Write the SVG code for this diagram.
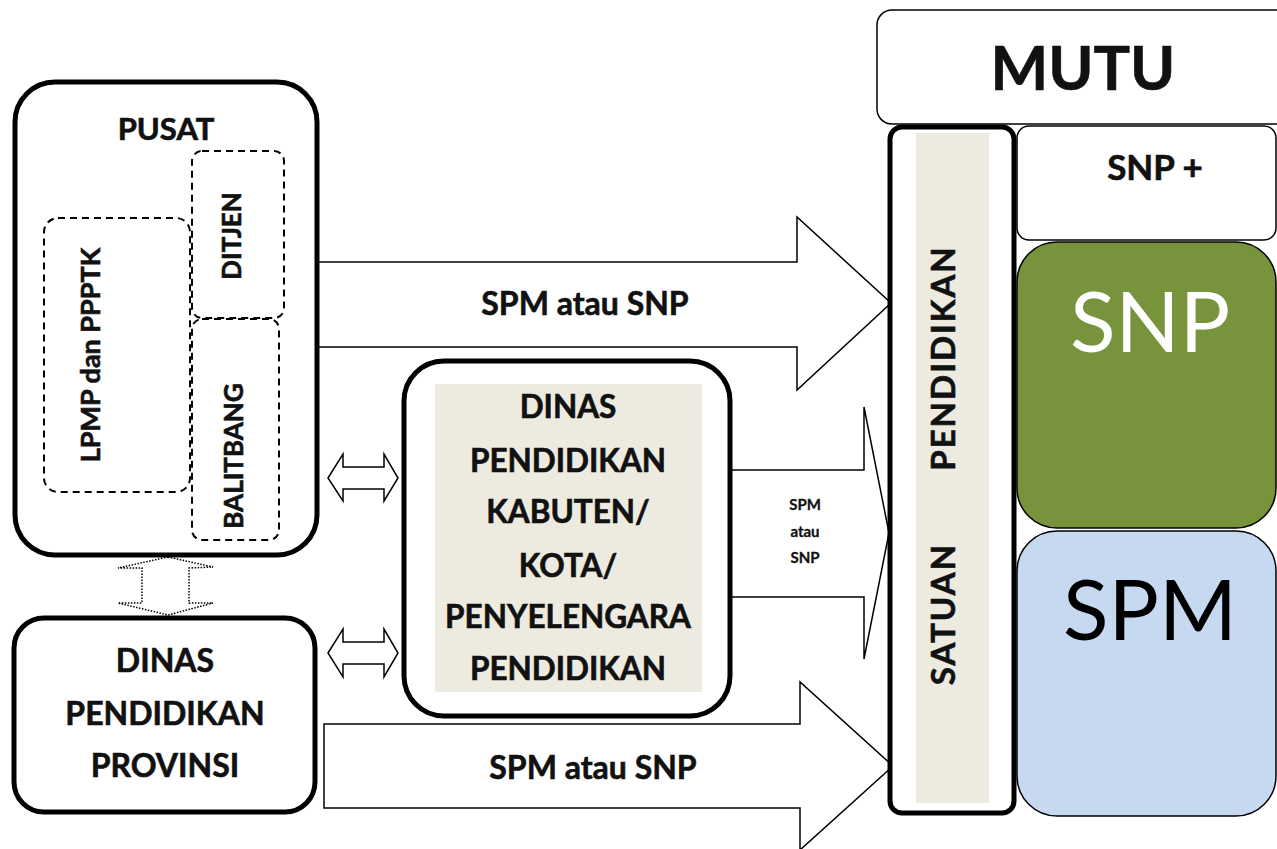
<svg xmlns="http://www.w3.org/2000/svg" width="1277" height="849" viewBox="0 0 1277 849">
<style>
  text { font-family: Lato, "Open Sans", "Liberation Sans", sans-serif; font-weight: bold; fill: #111; stroke: #111; stroke-width: 0.6; text-anchor: middle; }
  .thick { fill: #fff; stroke: #000; stroke-width: 5; }
  .thin { fill: #fff; stroke: #000; stroke-width: 1.5; }
  .dash { fill: none; stroke: #000; stroke-width: 2; stroke-dasharray: 7 5; }
  .arrow { fill: #fff; stroke: #000; stroke-width: 1.5; stroke-linejoin: miter; }
  .dot { fill: #fff; stroke: #000; stroke-width: 1.5; stroke-dasharray: 1.5 1.5; }
  .beige { fill: #EDEBE0; }
</style>
<rect width="1277" height="849" fill="#fff"/>

<g id="connectors">
  <polygon class="arrow" points="300,262 797,262 797,217 891,303 797,390 797,347 300,347"/>
  <text x="585" y="315" font-size="32">SPM atau SNP</text>
  <polygon class="arrow" points="710,470 864,470 864,407 889,533 864,659 864,597 710,597"/>
  <text x="805" y="510" font-size="15" style="stroke-width:0.3">SPM</text>
  <text x="805" y="537" font-size="15" style="stroke-width:0.3">atau</text>
  <text x="805" y="563" font-size="15" style="stroke-width:0.3">SNP</text>
  <polygon class="arrow" points="324,724 800,724 800,682 893,766 800,850 800,808 324,808"/>
  <text x="593" y="779" font-size="32">SPM atau SNP</text>
  <polygon class="dot" points="168,557 213,567 189,568 189,603 213,603 168,615 118,603 142,603 142,568 118,568"/>
  <polygon class="arrow" points="328,478 343,454 343,467 384,467 384,454 398,478 384,501 384,489 343,489 343,501"/>
  <polygon class="arrow" points="328,653 343,629 343,642 384,642 384,629 398,653 384,677 384,664 343,664 343,677"/>
</g>

<g id="pusat">
  <rect class="thick" x="15" y="82" width="302" height="473" rx="40"/>
  <text x="166" y="140" font-size="31">PUSAT</text>
</g>
<g id="ditjen">
  <rect class="dash" x="192" y="151" width="92" height="167" rx="10"/>
  <text transform="translate(241,236) rotate(-90)" font-size="26">DITJEN</text>
</g>
<g id="balitbang">
  <rect class="dash" x="192" y="319" width="87" height="221" rx="10"/>
  <text transform="translate(243,456) rotate(-90)" font-size="26">BALITBANG</text>
</g>
<g id="lpmp">
  <rect class="dash" x="44" y="218" width="146" height="274" rx="14"/>
  <text transform="translate(100,355) rotate(-90)" font-size="27">LPMP dan PPPTK</text>
</g>

<g id="provinsi">
  <rect class="thick" x="14" y="618" width="301" height="194" rx="30"/>
  <text x="165" y="672" font-size="32">DINAS</text>
  <text x="165" y="725" font-size="32">PENDIDIKAN</text>
  <text x="165" y="777" font-size="32">PROVINSI</text>
</g>

<g id="dinas-kab">
  <rect class="thick" x="404" y="361" width="326" height="355" rx="40"/>
  <rect class="beige" x="435" y="384" width="267" height="308"/>
  <text x="568" y="418" font-size="31.5">DINAS</text>
  <text x="568" y="472" font-size="31.5">PENDIDIKAN</text>
  <text x="568" y="523" font-size="31.5">KABUTEN/</text>
  <text x="568" y="577" font-size="31.5">KOTA/</text>
  <text x="568" y="628" font-size="31.5">PENYELENGARA</text>
  <text x="568" y="680" font-size="31.5">PENDIDIKAN</text>
</g>

<g id="mutu">
  <rect class="thin" x="877" y="10" width="420" height="114" rx="15"/>
  <text x="1083" y="90" font-size="61">MUTU</text>
</g>

<g id="satuan">
  <rect class="thick" x="890" y="127" width="124" height="686" rx="12"/>
  <rect class="beige" x="916" y="133" width="73" height="670"/>
  <text transform="translate(955,358) rotate(-90)" font-size="33" letter-spacing="2">PENDIDIKAN</text>
  <text transform="translate(955,614) rotate(-90)" font-size="33" letter-spacing="2">SATUAN</text>
</g>

<g id="snp-plus">
  <rect class="thin" x="1017" y="126" width="259" height="114" rx="12"/>
  <text x="1155" y="180" font-size="35">SNP +</text>
</g>

<g id="snp">
  <rect x="1017" y="242" width="259" height="286" rx="40" fill="#77933C" stroke="#000" stroke-width="1.5"/>
  <text x="1150" y="352" font-size="84" style="fill:#fff;stroke:none;font-weight:normal">SNP</text>
</g>

<g id="spm">
  <rect x="1017" y="531" width="259" height="285" rx="40" fill="#C6D9F1" stroke="#000" stroke-width="1.5"/>
  <text x="1150" y="640" font-size="84" style="fill:#000;stroke:none;font-weight:normal">SPM</text>
</g>
</svg>
